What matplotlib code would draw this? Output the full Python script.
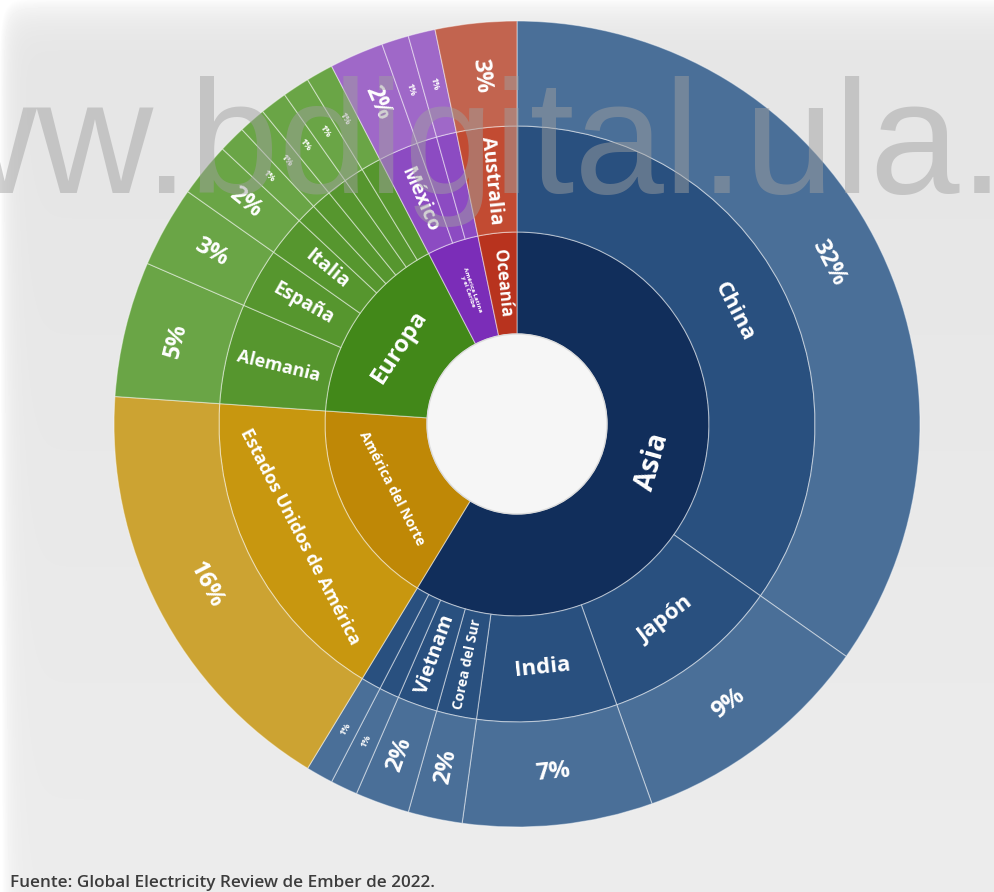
import matplotlib.pyplot as plt
from matplotlib.patches import Wedge, Circle
import numpy as np

# share of world solar generation (Ember 2022)
continents = ['Asia', 'América del Norte', 'Europa', 'América Latina\ny el Caribe', 'Oceanía']
asia_names = ['China', 'Japón', 'India', 'Corea del Sur', 'Vietnam', '', '']
asia_vals = [32, 9, 7, 2, 2, 1, 1]
nam_names = ['Estados Unidos de América']
nam_vals = [16]
eur_names = ['Alemania', 'España', 'Italia', '', '', '', '', '']
eur_vals = [5, 3, 2, 1, 1, 1, 1, 1]
lat_names = ['México', '', '']
lat_vals = [2, 1, 1]
oce_names = ['Australia']
oce_vals = [3]

countries = [asia_names, nam_names, eur_names, lat_names, oce_names]
values = [asia_vals, nam_vals, eur_vals, lat_vals, oce_vals]

# inner, middle, outer colour per continent
colors = [('#112e5b', '#29507f', '#4a6f98'),
          ('#bf8806', '#c8970f', '#cca332'),
          ('#428819', '#56962e', '#6aa546'),
          ('#7b2db8', '#8c4bc2', '#9f68c8'),
          ('#b8331e', '#c24b32', '#c2644f')]

sizes = {'Asia': 20, 'Europa': 17, 'América del Norte': 10, 'América Latina\ny el Caribe': 4.5,
         'Oceanía': 12, 'China': 16, 'Japón': 16, 'India': 16, 'Corea del Sur': 10,
         'Vietnam': 14, 'Estados Unidos de América': 13, 'Alemania': 13, 'España': 13.5,
         'Italia': 14, 'México': 14, 'Australia': 14}

cx, cy = 517, 424
radii = [90, 192, 298, 403]
total = sum(sum(v) for v in values)

fig = plt.figure(figsize=(9.94, 8.92), dpi=100)
ax = fig.add_axes([0, 0, 1, 1])
ax.set_xlim(0, 994)
ax.set_ylim(892, 0)
ax.axis('off')

# light grey background, whiter at the top and left edge
bg = np.ones((892, 994)) * 0.895
yy = np.arange(892)[:, None]
xx = np.arange(994)[None, :]
bg = bg + 0.09 * np.exp(-yy / 18.0) + 0.09 * np.exp(-xx / 8.0) + 0.03 * (yy / 892.0)
bg = np.clip(bg, 0, 1)
ax.imshow(bg, cmap='gray', vmin=0, vmax=1, extent=[0, 994, 892, 0], zorder=0)

sep = (1, 1, 1, 0.45)


def label(txt, a0, a1, ring, size, color='white'):
    mid = (a0 + a1) / 2
    r = (radii[ring] + radii[ring + 1]) / 2
    x = cx + r * np.sin(np.radians(mid))
    y = cy - r * np.cos(np.radians(mid))
    arc = r * np.radians(a1 - a0)
    if arc > 100:
        rot = -mid
    else:
        rot = 90 - mid
    rot = ((rot + 90) % 180) - 90
    ax.text(x, y, txt, rotation=rot, rotation_mode='anchor', ha='center', va='center',
            fontsize=size, color=color, fontweight='bold', family='Open Sans',
            linespacing=1.0, zorder=5)


a = 0.0
for i, cont in enumerate(continents):
    c_in, c_mid, c_out = colors[i]
    span = sum(values[i]) / total * 360
    ax.add_patch(Wedge((cx, cy), radii[1], a - 90, a + span - 90, width=radii[1] - radii[0],
                       facecolor=c_in, edgecolor=sep, linewidth=0.8, zorder=2))
    label(cont, a, a + span, 0, sizes[cont])
    b = a
    for name, v in zip(countries[i], values[i]):
        s = v / total * 360
        ax.add_patch(Wedge((cx, cy), radii[2], b - 90, b + s - 90, width=radii[2] - radii[1],
                           facecolor=c_mid, edgecolor=sep, linewidth=0.8, zorder=2))
        ax.add_patch(Wedge((cx, cy), radii[3], b - 90, b + s - 90, width=radii[3] - radii[2],
                           facecolor=c_out, edgecolor=sep, linewidth=0.8, zorder=2))
        if name:
            label(name, b, b + s, 1, sizes[name])
        label(f'{v}%', b, b + s, 2, 6.5 if v == 1 else 17)
        b += s
    a += span

# white centre hole
ax.add_patch(Circle((cx, cy), radii[0], facecolor='#f6f6f6', edgecolor='#dcdcdc',
                    linewidth=1.0, zorder=3))

# watermark
ax.text(-196, 193, 'www.bdigital.ula.ve', fontsize=116, family='Liberation Sans',
        color='#a0a0a0', alpha=0.48, ha='left', va='baseline', zorder=8)

ax.text(10, 887, 'Fuente: Global Electricity Review de Ember de 2022.', fontsize=12.3,
        color='#3c3c3c', family='Open Sans', fontweight='semibold', ha='left', va='baseline')

fig.savefig('out.png', dpi=100)
